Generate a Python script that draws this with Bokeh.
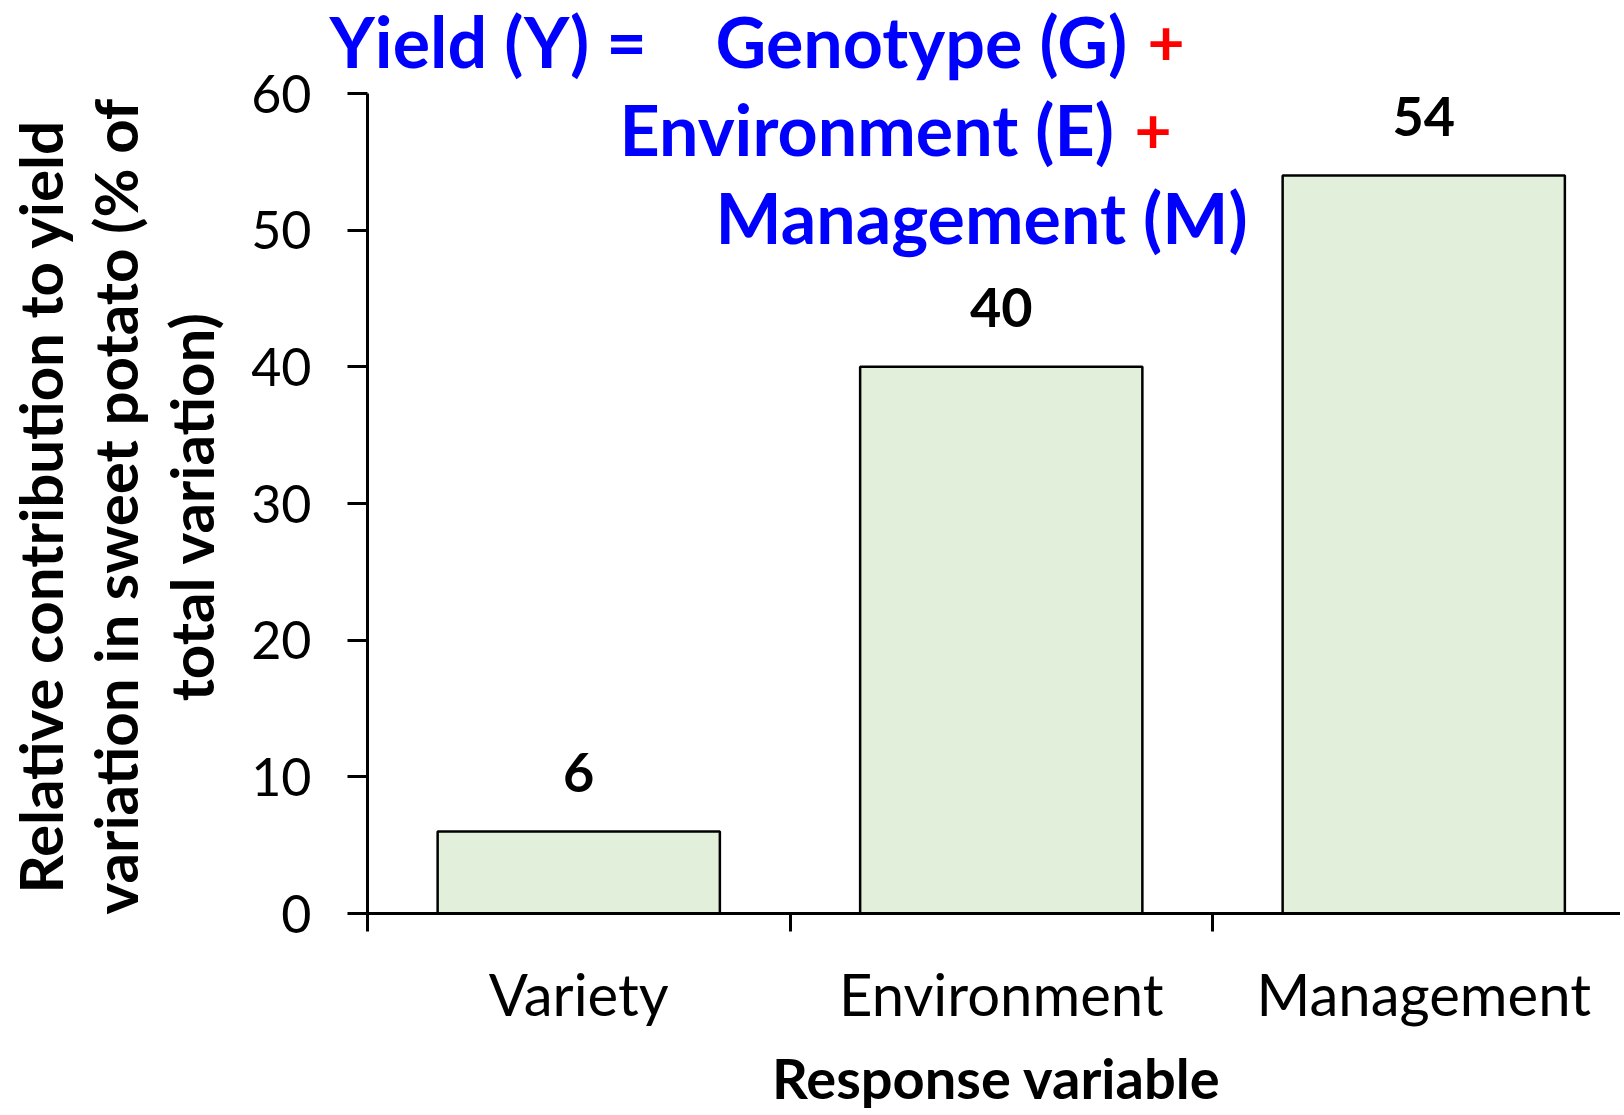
import math
from bokeh.plotting import figure
from bokeh.models import (Range1d, FixedTicker, Label, LabelSet,
                          ColumnDataSource, LinearAxis)
from bokeh.core.properties import value
from bokeh.embed import file_html
from bokeh.resources import INLINE

# ---------------- data ----------------
categories = ["Variety", "Environment", "Management"]
contributions = [6, 40, 54]
y_ticks = [0, 10, 20, 30, 40, 50, 60]
y_axis_title = ["Relative contribution to yield",
                "variation in sweet potato (% of",
                "total variation)"]
x_axis_title = "Response variable"
eq_left = "Yield (Y) ="
eq_terms = ["Genotype (G)", "Environment (E)", "Management (M)"]
eq_plus = "+"

# ---------------- layout (pixels) ----------------
W, H = 1620, 1111
AX_X, AX_Y = 367, 913          # pixel position of the axes origin
CAT_PX = 422.5                 # pixels per category
Y_TOP_PX = 93                  # pixel position of y = 60
Y_MAX = 60
PX_PER_Y = (AX_Y - Y_TOP_PX) / Y_MAX
FONT = "Lato"
BLUE, RED = "#0000FF", "#FF0000"
SHIFT = 23                     # baseline correction for Label text

n = len(categories)
centers = [i + 0.5 for i in range(n)]
bounds = [float(i) for i in range(n)]

x_start = -AX_X / CAT_PX
x_end = (W - AX_X) / CAT_PX
y_end = AX_Y / PX_PER_Y
y_start = -(H - AX_Y) / PX_PER_Y

p = figure(width=W, height=H,
           x_range=Range1d(x_start, x_end), y_range=Range1d(y_start, y_end),
           output_backend="svg", toolbar_location=None,
           x_axis_location=None, y_axis_location=None,
           min_border=0, min_border_left=0, min_border_right=0,
           min_border_top=0, min_border_bottom=0, title=None)
p.outline_line_color = None
p.background_fill_color = "white"
p.border_fill_color = "white"
p.grid.visible = False

src = ColumnDataSource(dict(x=centers, top=contributions,
                            label=[str(v) for v in contributions]))
p.vbar(x="x", top="top", width=0.668, bottom=0, source=src,
       fill_color="#E2EFDA", line_color="black", line_width=2.5)

p.add_layout(LabelSet(x="x", y="top", text="label", source=src,
                      text_align="center", text_baseline="alphabetic",
                      y_offset=40, text_font=value(FONT), text_font_style="bold",
                      text_font_size="54px", text_color="black"))

# y axis
ya = LinearAxis(fixed_location=0, bounds=(0, Y_MAX))
ya.ticker = FixedTicker(ticks=y_ticks, minor_ticks=[])
ya.axis_line_width = 3
ya.major_tick_line_width = 3
ya.major_tick_out = 20
ya.major_tick_in = 0
ya.minor_tick_line_color = None
ya.major_label_standoff = 36
ya.major_label_text_font = FONT
ya.major_label_text_font_size = "52px"
ya.major_label_text_color = "black"
p.add_layout(ya, "left")

# x axis
xa = LinearAxis(fixed_location=0, bounds=(0, x_end))
xa.ticker = FixedTicker(ticks=centers, minor_ticks=bounds)
xa.axis_line_width = 3
xa.major_tick_line_color = None
xa.major_tick_out = 0
xa.major_tick_in = 0
xa.minor_tick_line_width = 3
xa.minor_tick_out = 18
xa.minor_tick_in = 0
xa.major_label_overrides = {c: name for c, name in zip(centers, categories)}
xa.major_label_standoff = 27
xa.major_label_text_font = FONT
xa.major_label_text_font_size = "58px"
xa.major_label_text_color = "black"
p.add_layout(xa, "below")

def add_label(text, px, py, color="black", size="56px", align="left", rotated=False):
    if rotated:
        x, y, angle = px - SHIFT, H - py, math.pi / 2
    else:
        x, y, angle = px, H - (py - SHIFT), 0.0
    p.add_layout(Label(x=x, y=y, x_units="screen", y_units="screen",
                       text=text, text_align=align, text_baseline="alphabetic",
                       text_font=FONT, text_font_style="bold",
                       text_font_size=size, text_color=color, angle=angle))

# equation (title)
TS = "70px"
PS = "64px"
add_label(eq_left, 329, 63, BLUE, TS)
add_label(eq_terms[0], 715, 63, BLUE, TS)
add_label(eq_plus, 1147, 64, RED, PS)
add_label(eq_terms[1], 619, 151, BLUE, TS)
add_label(eq_plus, 1134, 152, RED, PS)
add_label(eq_terms[2], 715, 239, BLUE, TS)

# y-axis title (3 rotated lines)
for line, bx in zip(y_axis_title, [62, 137, 213]):
    add_label(line, bx, 506, "black", "60px", "center", rotated=True)

# x-axis title
add_label(x_axis_title, 996, 1100, "black", "56px", "center")

open("out.html", "w").write(file_html(p, INLINE))
